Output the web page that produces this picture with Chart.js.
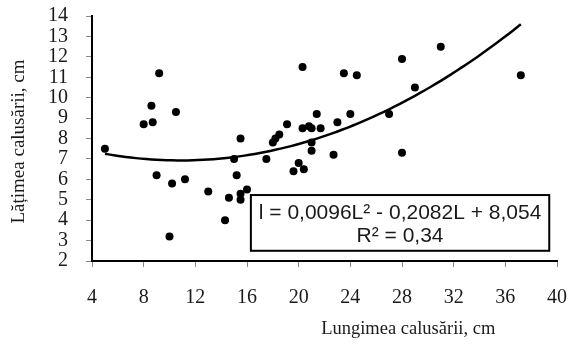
<!DOCTYPE html>
<html>
<head>
  <meta charset="utf-8">
  <title>Lățimea vs lungimea calusării</title>
  <script src="https://cdn.jsdelivr.net/npm/chart.js@4.4.0/dist/chart.umd.min.js"></script>
  <style>
    html, body { margin: 0; padding: 0; background: #fff; }
    #wrap { width: 568px; height: 345px; }
  </style>
</head>
<body>
  <div id="wrap"><canvas id="chart" width="568" height="345"></canvas></div>

  <script>
    // measured points: length (L, cm) and width (l, cm)
    const lengths = [5.0, 8.0, 8.6, 8.7, 9.0, 9.2, 10.0, 10.2, 10.5, 11.2,
      13.0, 14.3, 14.6, 15.0, 15.2, 15.5, 15.5, 15.5, 16.0, 17.5,
      18.0, 18.2, 18.5, 19.1, 19.6, 20.0, 20.3, 20.3, 20.4, 20.8,
      21.0, 21.0, 21.0, 21.4, 21.7, 22.7, 23.0, 23.5, 24.0, 24.5,
      27.0, 28.0, 28.0, 29.0, 31.0, 37.2];
    const widths = [7.5, 8.7, 9.6, 8.8, 6.2, 11.2, 3.2, 5.8, 9.3, 6.0,
      5.4, 4.0, 5.1, 7.0, 6.2, 8.0, 5.3, 5.0, 5.5, 7.0,
      7.8, 8.0, 8.2, 8.7, 6.4, 6.8, 11.5, 8.5, 6.5, 8.6,
      8.5, 7.8, 7.4, 9.2, 8.5, 7.2, 8.8, 11.2, 9.2, 11.1,
      9.2, 11.9, 7.3, 10.5, 12.5, 11.1];

    // polynomial trend as printed on the chart: l = a*L^2 + b*L + c
    const trendCoef = [0.0096, -0.2082, 8.054];
    const trendRange = [5.0, 37.2];
    const equationLines = ['l = 0,0096L² - 0,2082L + 8,054', 'R² = 0,34'];

    const xTitle = 'Lungimea calusării, cm';
    const yTitle = 'Lățimea calusării, cm';

    const points = lengths.map((L, i) => ({ x: L, y: widths[i] }));

    const trend = [];
    for (let L = trendRange[0]; L <= trendRange[1] + 1e-9; L += 0.4) {
      trend.push({ x: L, y: trendCoef[0] * L * L + trendCoef[1] * L + trendCoef[2] });
    }
    const Lend = trendRange[1];
    trend.push({ x: Lend, y: trendCoef[0] * Lend * Lend + trendCoef[1] * Lend + trendCoef[2] });

    const serif = "'Liberation Serif', 'Times New Roman', serif";
    const sans = "'Liberation Sans', Arial, sans-serif";
    const ink = '#1a1a1a';

    // no extra label padding, layout padding decides the plot box
    function noPad(scale) {
      scale.paddingTop = 0;
      scale.paddingBottom = 0;
      scale.paddingLeft = 0;
      scale.paddingRight = 0;
    }

    // equation box + axis titles
    const extras = {
      id: 'extras',
      afterDraw(chart) {
        const ctx = chart.ctx;
        const xs = chart.scales.x, ys = chart.scales.y;
        const area = chart.chartArea;

        // equation box, placed in data units
        const bx0 = xs.getPixelForValue(16.3), bx1 = xs.getPixelForValue(39.4);
        const by0 = ys.getPixelForValue(5.23), by1 = ys.getPixelForValue(2.5);
        ctx.save();
        ctx.fillStyle = '#fff';
        ctx.fillRect(bx0, by0, bx1 - bx0, by1 - by0);
        ctx.strokeStyle = '#000';
        ctx.lineWidth = 2;
        ctx.strokeRect(bx0, by0, bx1 - bx0, by1 - by0);
        ctx.fillStyle = ink;
        ctx.font = '21px ' + sans;
        ctx.textAlign = 'center';
        ctx.textBaseline = 'alphabetic';
        const cx = (bx0 + bx1) / 2;
        ctx.fillText(equationLines[0], cx, by0 + 24);
        ctx.fillText(equationLines[1], cx, by0 + 47);

        // x title (sits right of centre in the original)
        ctx.font = '18.5px ' + serif;
        ctx.fillText(xTitle, area.left + (area.right - area.left) * 0.68, 334);

        // y title
        ctx.translate(24, (area.top + area.bottom) / 2 + 3);
        ctx.rotate(-Math.PI / 2);
        ctx.font = '19px ' + serif;
        ctx.fillText(yTitle, 0, 0);
        ctx.restore();
      }
    };

    new Chart(document.getElementById('chart'), {
      type: 'scatter',
      data: {
        datasets: [
          {
            label: 'date',
            data: points,
            backgroundColor: '#000',
            borderWidth: 0,
            pointRadius: 4,
            order: 1
          },
          {
            type: 'line',
            label: 'trend',
            data: trend,
            borderColor: '#000',
            borderWidth: 2.5,
            pointRadius: 0,
            fill: false,
            tension: 0,
            order: 2
          }
        ]
      },
      options: {
        responsive: false,
        animation: false,
        layout: { autoPadding: false, padding: { top: 16, right: 11, bottom: 0, left: 0 } },
        plugins: {
          legend: { display: false },
          tooltip: { enabled: false }
        },
        scales: {
          x: {
            type: 'linear',
            min: 4,
            max: 40,
            afterFit(scale) { scale.height = 84; noPad(scale); },
            border: { display: true, color: '#000', width: 2 },
            grid: { drawOnChartArea: false, drawTicks: true, tickLength: 6, color: '#888' },
            ticks: { stepSize: 4, autoSkip: false, maxRotation: 0, padding: 19, color: ink, font: { family: serif, size: 20 } }
          },
          y: {
            type: 'linear',
            min: 2,
            max: 14,
            afterFit(scale) { scale.width = 92; noPad(scale); },
            border: { display: true, color: '#000', width: 2 },
            grid: { drawOnChartArea: false, drawTicks: true, tickLength: 6, color: '#888' },
            ticks: { stepSize: 1, autoSkip: false, padding: 18, color: ink, font: { family: serif, size: 20 } }
          }
        }
      },
      plugins: [extras]
    });
  </script>
</body>
</html>
